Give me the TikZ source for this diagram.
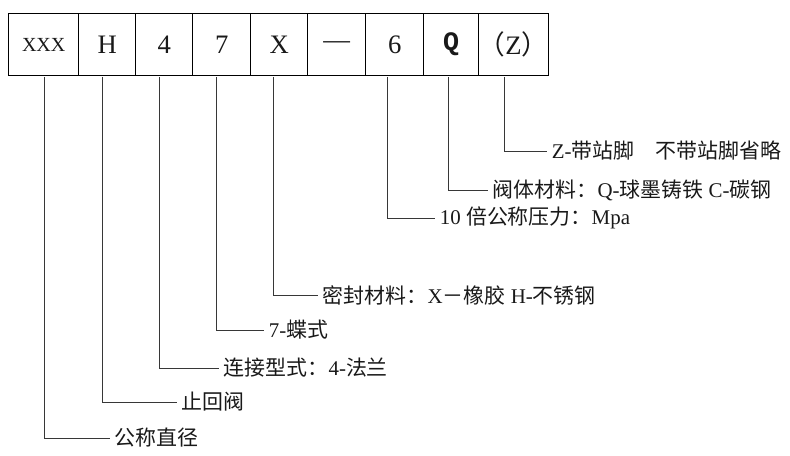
\documentclass[tikz,border=0pt]{standalone}
\usepackage{fontspec}
\setmainfont{Liberation Serif}
\setmonofont{Liberation Mono}
\newfontfamily\cjk{Noto Sans CJK SC}
\usetikzlibrary{positioning}
\definecolor{leadgray}{RGB}{55,55,55}
\definecolor{inkblack}{RGB}{25,25,25}
\newcommand{\zh}[1]{{\cjk #1}}

\begin{document}
\begin{tikzpicture}[x=0.75pt,y=-0.75pt,
    codebox/.style={draw=black,line width=1pt,minimum height=46.5pt,
      inner sep=0pt,anchor=north west,text=inkblack,
      font=\fontsize{20}{24}\selectfont},
    leader/.style={draw=leadgray,line width=0.7pt},
    note/.style={anchor=west,inner xsep=3.5pt,inner ysep=0pt,
      text=inkblack,font=\fontsize{15.7}{18}\selectfont}]
  \useasboundingbox (0,0) rectangle (790,456);

  % code boxes
  \node[codebox,minimum width=52.5pt,font=\fontsize{15}{18}\selectfont]
    (b1) at (8,13) {XXX};
  \node[codebox,minimum width=42.75pt] (b2) at (78,13) {H};
  \node[codebox,minimum width=42.75pt] (b3) at (135,13) {4};
  \node[codebox,minimum width=43.5pt] (b4) at (192,13) {7};
  \node[codebox,minimum width=42.75pt] (b5) at (250,13) {X};
  \node[codebox,minimum width=43.5pt] (b6) at (307,13) {---};
  \node[codebox,minimum width=43.5pt] (b7) at (365,13) {6};
  \node[codebox,minimum width=41.25pt] (b8) at (423,13) {\ttfamily\bfseries Q};
  \node[codebox,minimum width=43.5pt] (b9) at (478,13) {\zh{（}Z\zh{）}};

  % leader starts under the boxes
  \coordinate (t1) at (44,77);
  \coordinate (t2) at (102,77);
  \coordinate (t3) at (159,77);
  \coordinate (t4) at (216,77);
  \coordinate (t5) at (273,77);
  \coordinate (t7) at (387,77);
  \coordinate (t8) at (448,77);
  \coordinate (t9) at (504,77);

  % explanations
  \node[note] (l1) at (110,438) {\zh{公称直径}};
  \node[note] (l2) at (177,402) {\zh{止回阀}};
  \node[note] (l3) at (219,368) {\zh{连接型式：}4-\zh{法兰}};
  \node[note] (l4) at (264,330) {7-\zh{蝶式}};
  \node[note] (l5) at (318,295)
    {\zh{密封材料：}X\zh{－橡胶} H-\zh{不锈钢}};
  \node[note] (l7) at (435,218) {10 \zh{倍公称压力：}Mpa};
  \node[note] (l8) at (488,190) {\zh{阀体材料：}Q-\zh{球墨铸铁} C-\zh{碳钢}};
  \node[note] (l9) at (547,151) {Z-\zh{带站脚　不带站脚省略}};

  \draw[leader] (t1) |- (l1.west);
  \draw[leader] (t2) |- (l2.west);
  \draw[leader] (t3) |- (l3.west);
  \draw[leader] (t4) |- (l4.west);
  \draw[leader] (t5) |- (l5.west);
  \draw[leader] (t7) |- (l7.west);
  \draw[leader] (t8) |- (l8.west);
  \draw[leader] (t9) |- (l9.west);
\end{tikzpicture}
\end{document}
